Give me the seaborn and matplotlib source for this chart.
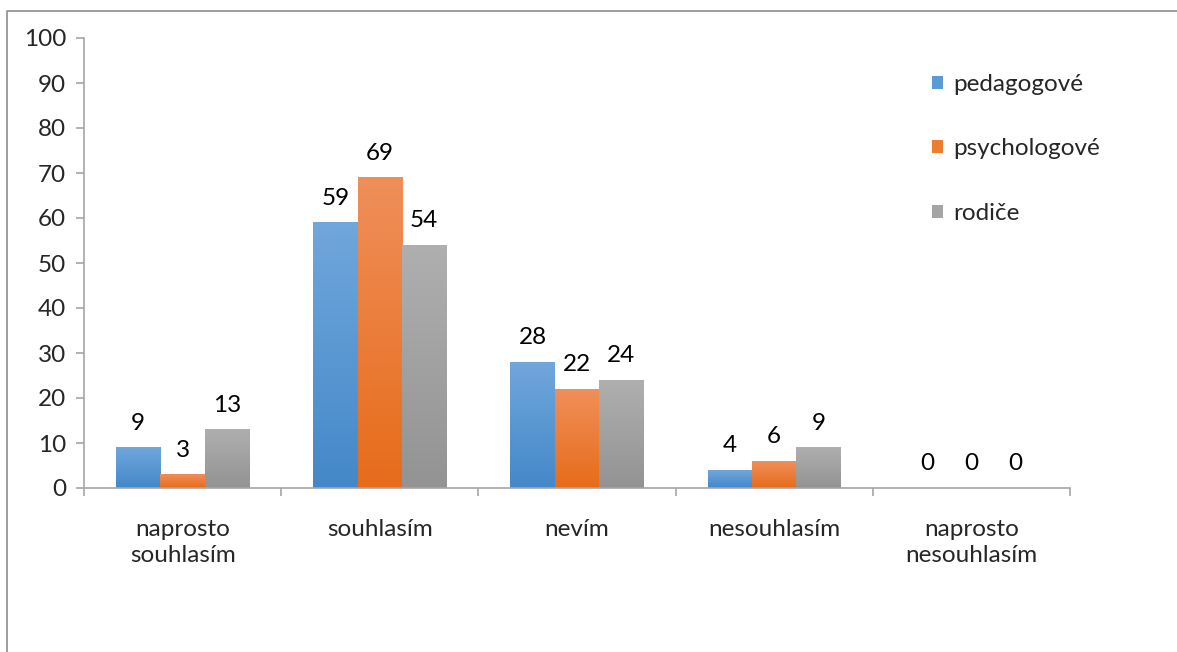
import numpy as np
import pandas as pd
import matplotlib
matplotlib.use("Agg")
import matplotlib.pyplot as plt
from matplotlib.colors import LinearSegmentedColormap
from matplotlib.lines import Line2D
from matplotlib.patches import Patch
import seaborn as sns

categories = ["naprosto\nsouhlasím", "souhlasím", "nevím", "nesouhlasím", "naprosto\nnesouhlasím"]
series = ["pedagogové", "psychologové", "rodiče"]
pedagogove = [9, 59, 28, 4, 0]
psychologove = [3, 69, 22, 6, 0]
rodice = [13, 54, 24, 9, 0]
yticks = [0, 10, 20, 30, 40, 50, 60, 70, 80, 90, 100]

# (top colour, bottom colour, legend colour) for each series
grad = {
    "pedagogové": ("#70a7dc", "#4488c9", "#5b9bd5"),
    "psychologové": ("#f08f5a", "#e66c1a", "#ed7d31"),
    "rodiče": ("#afafaf", "#939393", "#a5a5a5"),
}

FS = 17.5

sns.set_theme(style="white")
plt.rcParams["font.family"] = ["Lato", "DejaVu Sans"]

df = pd.DataFrame({
    "kategorie": np.repeat(categories, len(series)),
    "skupina": series * len(categories),
    "hodnota": [v for trio in zip(pedagogove, psychologove, rodice) for v in trio],
})

fig = plt.figure(figsize=(11.77, 6.52), dpi=100)
ax = fig.add_axes([84 / 1177, 1 - 488 / 652, (1070 - 84) / 1177, (488 - 38) / 652])

palette = {s: grad[s][2] for s in series}
sns.barplot(data=df, x="kategorie", y="hodnota", hue="skupina", order=categories,
            hue_order=series, palette=palette, width=0.675, saturation=1,
            linewidth=0, ax=ax, legend=False, errorbar=None)

# vertical gradient fill for every bar
for container, name in zip(ax.containers, series):
    cmap = LinearSegmentedColormap.from_list(name, [grad[name][1], grad[name][0]])
    vals = container.datavalues
    for patch in container.patches:
        x0 = patch.get_x()
        w = patch.get_width()
        h = patch.get_height()
        if h <= 0:
            continue
        g = np.linspace(0, 1, 256).reshape(-1, 1)
        ax.imshow(g, cmap=cmap, origin="lower", aspect="auto",
                  extent=(x0, x0 + w, 0, h), zorder=patch.get_zorder() + 0.1,
                  interpolation="bilinear")
    ax.bar_label(container, labels=[f"{int(v)}" for v in vals], padding=10,
                 fontsize=FS, color="#000000")
ax.set_xlim(-0.5, len(categories) - 0.5)
ax.set_ylim(0, 100)

axis_col = "#a6a6a6"
for side in ["top", "right"]:
    ax.spines[side].set_visible(False)
for side in ["left", "bottom"]:
    ax.spines[side].set_color(axis_col)
    ax.spines[side].set_linewidth(1.2)

ax.set_yticks(yticks)
ax.set_yticklabels([str(t) for t in yticks])
ax.tick_params(axis="y", which="major", direction="out", length=6, width=1.2,
               color=axis_col, labelsize=FS, pad=7, left=True)

ax.set_xticks(np.arange(-0.5, len(categories)), labels=[""] * (len(categories) + 1))
ax.set_xticks(np.arange(len(categories)), labels=categories, minor=True)
ax.tick_params(axis="x", which="major", direction="out", length=6, width=1.2,
               color=axis_col, bottom=True)
ax.tick_params(axis="x", which="minor", length=0, labelsize=FS, pad=22)
for lab in ax.get_xticklabels(minor=True):
    lab.set_linespacing(1.3)

ax.set_xlabel("")
ax.set_ylabel("")
ax.grid(False)

handles = [Patch(facecolor=grad[s][2], edgecolor="none") for s in series]
fig.legend(handles, series, loc="upper left", bbox_to_anchor=(922 / 1177, 1 - 64 / 652),
           frameon=False, fontsize=FS, handlelength=0.45, handleheight=0.45,
           handletextpad=0.45, labelspacing=1.8, borderaxespad=0)

# chart frame
fig.add_artist(Line2D([7 / 1177, 7 / 1177, 1.0], [0.0, 1 - 11 / 652, 1 - 11 / 652],
                      transform=fig.transFigure, color="#8c8c8c", linewidth=1.2))

fig.savefig("out.png", dpi=100)
